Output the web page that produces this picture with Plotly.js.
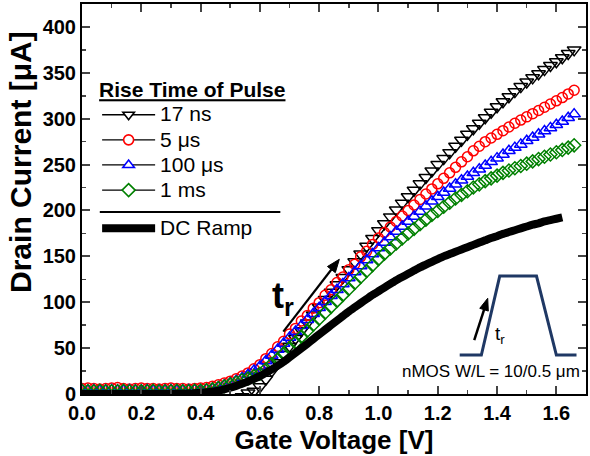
<!DOCTYPE html>
<html><head><meta charset="utf-8">
<script src="https://cdn.plot.ly/plotly-3.0.1.min.js"></script>
<style>html,body{margin:0;padding:0;background:#fff}#chart{width:590px;height:456px}</style>
</head><body><div id="chart"></div>
<script>
// Gate voltage sweep [V]
const gateV = [0.00,0.02,0.04,0.06,0.08,0.10,0.12,0.14,0.16,0.18,0.20,0.22,0.24,0.26,0.28,0.30,0.32,0.34,0.36,0.38,
0.40,0.42,0.44,0.46,0.48,0.50,0.52,0.54,0.56,0.58,0.60,0.62,0.64,0.66,0.68,0.70,0.72,0.74,0.76,0.78,
0.80,0.82,0.84,0.86,0.88,0.90,0.92,0.94,0.96,0.98,1.00,1.02,1.04,1.06,1.08,1.10,1.12,1.14,1.16,1.18,
1.20,1.22,1.24,1.26,1.28,1.30,1.32,1.34,1.36,1.38,1.40,1.42,1.44,1.46,1.48,1.50,1.52,1.54,1.56,1.58,
1.60,1.62,1.64,1.66];

// Drain current [uA] per rise time
const i17ns = [-8,-8,-8,-8,-8,-8,-8,-8,-8,-8,-8,-8,-8,-8,-8,-8,-8,-8,-8,-8,
-8,-8,-8,-8,-8,-8,-8,-3,1,3,8,16,25,34,43,52,60.5,69,77.5,86,
94.5,103,111,119,127,135.5,144,152.5,161,169.5,178,185.5,193,200.5,208,215,222,229,236,243,
250,256.5,263,270,276.5,283,289,295,301,307,313,318.5,324,329.5,335,340,344.5,349,353.5,358,
362,366.5,371,375];
const i5us = [6,6.5,6,5.5,6,6.5,7,6,5.5,6,6.5,6,6,5.5,6,6.5,6,6,5.5,6,
6.5,7,8.5,10,12,14,16.5,19.5,23,27.5,32,38.5,44,51.5,57.5,65.5,71.5,79.5,85.5,93.5,
99.5,107.5,113.5,121.5,127.5,135.5,141.5,149.5,155.5,163,170,176,182,188,194,200,206,212,218,223.5,
229,235,241,247,253,258.5,265,270,275,279,283,287,291,295,298.5,302,305.5,309,312.5,316,
319.5,323,327,331];
const i100us = [4.5,4,4.5,4,4,4.5,4,4,4.5,4,4,4.5,4,4,4,4.5,4,4,4.5,4.5,
4.5,5,6,7.5,9.5,12,14.5,17.5,21,25.5,30,36,42,48.5,55,61.5,68,74.5,81,87.5,
94,100.5,107,113.5,120,126.5,133,139.5,146,152.5,159,165,171,177,182.5,188,193.5,199,204.5,210,
215,219.5,224,228.5,233,237,241,245,249,253,257,261,265,268.5,272,276,279.5,283,286.5,290,
293.5,297,301,305];
const i1ms = [3.5,3,3,3.5,3,3,3,3.5,3,3,3,3,3.5,3,3,3,3.5,3,3,3.5,
3.5,4,5,6.5,8.5,10.5,12.5,15,17,19.5,22,27,32.5,38,44,50,56,62.5,69,75.5,
82,88.5,95,101.5,108,114.5,121,127.5,134,140.5,147,153,158.5,164,169.5,175,180,185,190,195,
199.5,204,208.5,213,217,221,225,228.5,232,235,238,241,243.5,246,248.5,251,253.5,256,258.5,261,
263.5,266,268.5,271];
// DC ramp (ends at 1.62 V)
const iDC = [0,0,0,0,0,0,0,0,0,0,0,0,0,0,0,0,0.2,0.3,0.5,0.8,
1.2,1.8,2.6,3.7,5.1,6.8,8.8,11.1,13.7,16.5,19.5,23,26.8,30.8,35.2,40,44.8,49.7,54.7,59.8,
65,70,75,80,85,90,94.5,99,103.5,108,112,116,120,124,127.5,131,134.5,138,141,144,
147,150,152.5,155,157.5,160,162.5,165,167.5,170,172,174.5,176.5,178.5,180.5,182.5,184.5,186,188,189.5,
191,192.5];

const seriesNames = ['17 ns','5 \u03bcs','100 \u03bcs','1 ms'];
const dcName = 'DC Ramp';
const legendTitle = 'Rise Time of Pulse';
const seriesData = [i17ns, i5us, i100us, i1ms];
const seriesColors = ['#000000','#ff0000','#0000ff','#008000'];
const seriesSymbols = ['triangle-down','circle','triangle-up','diamond'];
const seriesSizes = [12,10,11,10];

const xTickVals = [0,0.2,0.4,0.6,0.8,1.0,1.2,1.4,1.6];
const xTickText = ['0.0','0.2','0.4','0.6','0.8','1.0','1.2','1.4','1.6'];
const yTickVals = [0,50,100,150,200,250,300,350,400];

// inset pulse sketch (decoration)
const pulseX = [1.274,1.347,1.409,1.533,1.600,1.668];
const pulseY = [42.5,42.5,128.5,128.5,42.5,42.5];

const FONT = 'Liberation Sans, Arial, Helvetica, sans-serif';
const M = {l:82, r:4, t:4, b:62}, W = 590, H = 456;
const xr = [0,1.7], yr = [0,425];
const pw = W - M.l - M.r, ph = H - M.t - M.b;
const toPx = (x,y)=>[M.l + (x-xr[0])/(xr[1]-xr[0])*pw, M.t + ph - (y-yr[0])/(yr[1]-yr[0])*ph];
const toData = (px,py)=>[xr[0] + (px-M.l)/pw*(xr[1]-xr[0]), yr[0] + (M.t+ph-py)/ph*(yr[1]-yr[0])];
function arrow(x0,y0,x1,y1,lw,hl,hw){
  const [a,b] = toPx(x0,y0), [c,d] = toPx(x1,y1);
  const L = Math.hypot(c-a,d-b), ux=(c-a)/L, uy=(d-b)/L, nx=-uy, ny=ux;
  const bx=c-ux*hl, by=d-uy*hl;
  const p1=toData(bx+nx*hw,by+ny*hw), p2=toData(bx-nx*hw,by-ny*hw), tip=toData(c,d), base=toData(bx+ux*1,by+uy*1);
  return [
    {type:'line', xref:'x', yref:'y', x0:x0, y0:y0, x1:base[0], y1:base[1], line:{color:'#000', width:lw}},
    {type:'path', xref:'x', yref:'y', path:`M${tip[0]},${tip[1]} L${p1[0]},${p1[1]} L${p2[0]},${p2[1]} Z`,
      fillcolor:'#000', line:{color:'#000', width:1}}
  ];
}

const traces = [];
seriesData.forEach((d,k)=>{
  traces.push({x:gateV.slice(0,d.length), y:d, type:'scatter', mode:'markers', showlegend:false,
    marker:{symbol:seriesSymbols[k]+'-open', size:seriesSizes[k], color:seriesColors[k], line:{width:1.5,color:seriesColors[k]}},
    hoverinfo:'skip'});
});
traces.push({x:gateV.slice(0,iDC.length), y:iDC, type:'scatter', mode:'lines', showlegend:false,
  line:{color:'#000', width:8, shape:'spline', smoothing:0.5, simplify:false}, hoverinfo:'skip'});
// legend entries
seriesNames.forEach((n,k)=>{
  traces.push({x:[null], y:[null], type:'scatter', mode:'lines+markers',
    name:'<span style="font-size:21px">'+n+'</span>', legendgroup:'pulse',
    line:{color:'#000', width:1.3},
    marker:{symbol:seriesSymbols[k], size:10, color:'#ffffff', line:{width:1.6,color:seriesColors[k]}}});
});
traces.push({x:[null], y:[null], type:'scatter', mode:'lines', name:'<span style="font-size:21px">'+dcName+'</span>', legendgroup:'dc',
  line:{color:'#000', width:8}});

const path = 'M' + pulseX.map((v,i)=>v+','+pulseY[i]).join(' L');

const layout = {
  width:W, height:H,
  margin:M,
  paper_bgcolor:'#fff', plot_bgcolor:'#fff',
  font:{family:FONT, color:'#000'},
  xaxis:{range:xr, tickvals:xTickVals, ticktext:xTickText, ticks:'inside', ticklen:8, tickwidth:2,
    minor:{dtick:0.1, tick0:0, ticks:'inside', ticklen:4, tickwidth:1.5},
    showline:true, linewidth:2, linecolor:'#000', mirror:'ticks', showgrid:false, zeroline:false,
    tickfont:{family:FONT, size:20, weight:'bold'},
    title:{text:'Gate Voltage [V]', font:{family:FONT, size:26, weight:'bold'}, standoff:8}},
  yaxis:{range:yr, tickvals:yTickVals, ticks:'inside', ticklen:8, tickwidth:2,
    minor:{dtick:25, tick0:0, ticks:'inside', ticklen:4, tickwidth:1.5},
    showline:true, linewidth:2, linecolor:'#000', mirror:'ticks', showgrid:false, zeroline:false,
    tickfont:{family:FONT, size:20, weight:'bold'}},
  legend:{x:0.03, y:0.831, xanchor:'left', yanchor:'top', bgcolor:'rgba(0,0,0,0)', borderwidth:0,
    font:{family:FONT, size:17, color:'#000'}, itemwidth:53, traceorder:'grouped', tracegroupgap:13,
    title:{text:'<u>'+legendTitle+'</u>', font:{family:FONT, size:21, weight:'bold'}}},
  shapes:[
    {type:'line', xref:'x', yref:'y', x0:0.06, x1:0.669, y0:198.3, y1:198.3, line:{color:'#000', width:2}},
    {type:'path', xref:'x', yref:'y', path:path, line:{color:'#1f3864', width:3}},
    ...arrow(0.679,67.9,0.868,146.8,2.2,13,5),
    ...arrow(1.323,58.8,1.3685,104.3,2.5,12,4.5)
  ],
  annotations:[
    {x:-0.121, y:0.595, xref:'paper', yref:'paper', xanchor:'center', yanchor:'middle', text:'Drain Current [\u03bcA]', textangle:-90, showarrow:false,
      font:{family:FONT, size:30, weight:'bold'}},
    {x:0.678, y:105, xref:'x', yref:'y', xanchor:'center', yanchor:'middle', text:'<b>t<sub>r</sub></b>', showarrow:false, font:{family:FONT, size:36}},
    {x:1.41, y:64, xref:'x', yref:'y', xanchor:'center', yanchor:'middle', text:'t<sub>r</sub>', showarrow:false, font:{family:FONT, size:19}},
    {x:1.38, y:24, xref:'x', yref:'y', xanchor:'center', yanchor:'middle', text:'nMOS W/L = 10/0.5 \u03bcm', showarrow:false, font:{family:FONT, size:17}}
  ]
};
Plotly.newPlot('chart', traces, layout, {staticPlot:true, displayModeBar:false});
</script></body></html>
